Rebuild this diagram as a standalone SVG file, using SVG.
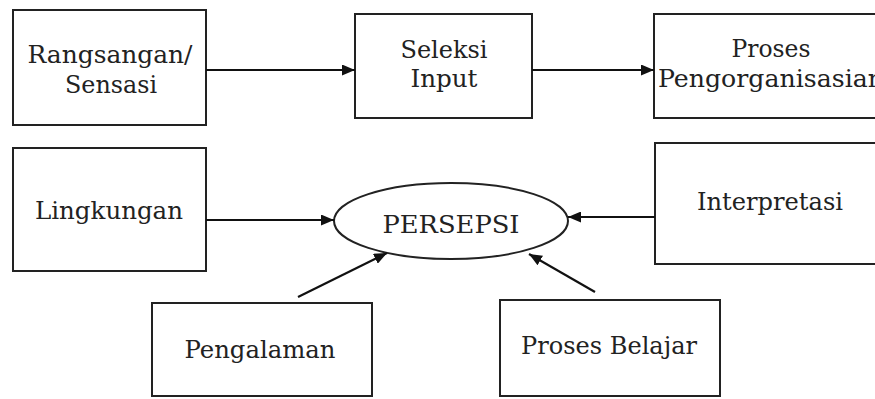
<svg xmlns="http://www.w3.org/2000/svg" width="875" height="399" viewBox="0 0 875 399">
<style>
.box{fill:#fff;stroke:#222;stroke-width:2}
.lbl{font-family:"DejaVu Serif","Liberation Serif",serif;font-size:24.5px;fill:#222;text-anchor:middle}
.con{stroke:#111;stroke-width:2.2;fill:none;marker-end:url(#ah)}
</style>
<defs>
<marker id="ah" viewBox="0 0 13 11" refX="13" refY="5.5" markerWidth="13" markerHeight="11" markerUnits="userSpaceOnUse" orient="auto">
<path d="M0,0 L13,5.5 L0,11 Z" fill="#111"/>
</marker>
</defs>
<rect width="875" height="399" fill="#fff"/>
<g id="rangsangan">
<rect class="box" x="13" y="10" width="193" height="115"/>
<text class="lbl" x="110" y="63" textLength="165" lengthAdjust="spacingAndGlyphs">Rangsangan/</text>
<text class="lbl" x="111" y="93" textLength="92" lengthAdjust="spacingAndGlyphs">Sensasi</text>
</g>
<g id="seleksi">
<rect class="box" x="355" y="14" width="177" height="104"/>
<text class="lbl" x="444" y="58" textLength="87" lengthAdjust="spacingAndGlyphs">Seleksi</text>
<text class="lbl" x="444" y="87" textLength="67" lengthAdjust="spacingAndGlyphs">Input</text>
</g>
<g id="pengorganisasian">
<rect class="box" x="654" y="14" width="236" height="104"/>
<text class="lbl" x="771" y="57" textLength="79" lengthAdjust="spacingAndGlyphs">Proses</text>
<text class="lbl" x="771" y="87" textLength="226" lengthAdjust="spacingAndGlyphs">Pengorganisasian</text>
</g>
<g id="lingkungan">
<rect class="box" x="13" y="148" width="193" height="123"/>
<text class="lbl" x="109" y="219" textLength="148" lengthAdjust="spacingAndGlyphs">Lingkungan</text>
</g>
<g id="persepsi">
<ellipse cx="451" cy="221" rx="117" ry="38" fill="#fff" stroke="#222" stroke-width="2"/>
<text class="lbl" x="451" y="233" textLength="137" lengthAdjust="spacingAndGlyphs">PERSEPSI</text>
</g>
<g id="interpretasi">
<rect class="box" x="655" y="143" width="232" height="121"/>
<text class="lbl" x="770" y="210" textLength="146" lengthAdjust="spacingAndGlyphs">Interpretasi</text>
</g>
<g id="pengalaman">
<rect class="box" x="152" y="303" width="220" height="93"/>
<text class="lbl" x="260" y="358" textLength="151" lengthAdjust="spacingAndGlyphs">Pengalaman</text>
</g>
<g id="proses-belajar">
<rect class="box" x="500" y="300" width="220" height="96"/>
<text class="lbl" x="609" y="354" textLength="176" lengthAdjust="spacingAndGlyphs">Proses Belajar</text>
</g>
<g id="connectors">
<line class="con" x1="206" y1="70" x2="355" y2="70"/>
<line class="con" x1="532" y1="70" x2="654" y2="70"/>
<line class="con" x1="206" y1="220" x2="334" y2="220"/>
<line class="con" x1="655" y1="217" x2="568" y2="217"/>
<line class="con" x1="298" y1="297" x2="387" y2="253"/>
<line class="con" x1="595" y1="292" x2="529" y2="254"/>
</g>
</svg>
